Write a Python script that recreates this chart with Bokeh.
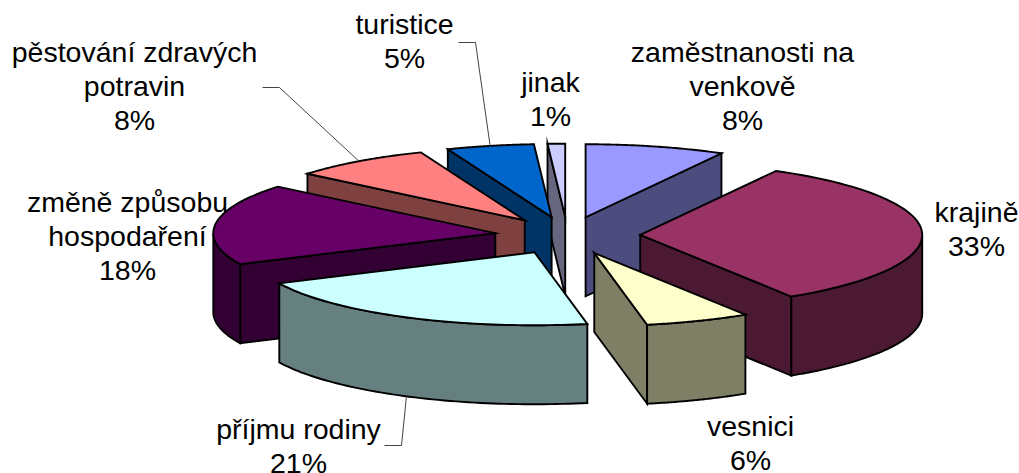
import numpy as np
from bokeh.plotting import figure
from bokeh.models import Range1d
from bokeh.core.properties import value
from bokeh.embed import file_html
from bokeh.resources import INLINE

# data
label_lines = [["zaměstnanosti na", "venkově"], ["krajině"], ["vesnici"], ["příjmu rodiny"],
               ["změně způsobu", "hospodaření"], ["pěstování zdravých", "potravin"], ["turistice"], ["jinak"]]
percent = [8, 33, 6, 21, 18, 8, 5, 1]
top_colors = ["#9999FF", "#993366", "#FFFFCC", "#CCFFFF", "#660066", "#FF8080", "#0066CC", "#CCCCFF"]
side_colors = ["#4C4C7F", "#4C1933", "#7F7F66", "#667F7F", "#330033", "#7F4040", "#003366", "#66667F"]

# layout (page pixels)
W, H = 1019, 473
CX, CY, RX, RY, DEPTH, EXPLODE = 567, 235, 282, 73, 79, 0.258
FONT = 28.5
LINE = 34
label_pos = [(742, 51), (976, 211), (750, 425), (298, 428), (127, 201), (134, 51), (404, 23), (550, 81)]
leaders = {3: [(384, 445), (401, 445)], 5: [(262, 87), (279, 87)], 6: [(458, 42), (475, 42)]}

p = figure(width=W, height=H, x_range=Range1d(0, W), y_range=Range1d(H, 0),
           toolbar_location=None, output_backend="svg", min_border=0, outline_line_color=None)
p.xaxis.visible = False
p.yaxis.visible = False
p.grid.visible = False

v = np.array(percent, dtype=float)
edges = np.concatenate([[0], np.cumsum(v) / v.sum() * 2 * np.pi])


def apex(i):
    m = (edges[i] + edges[i + 1]) / 2
    return CX + EXPLODE * RX * np.sin(m), CY - EXPLODE * RY * np.cos(m)


def rim(i, t):
    ax, ay = apex(i)
    return ax + RX * np.sin(t), ay - RY * np.cos(t)


def face(xs, ys, color):
    p.patch(list(xs), list(ys), fill_color=color, line_color="black", line_width=1.9, line_join="miter")


order = sorted(range(len(v)), key=lambda i: apex(i)[1])
for i in order:
    a, b = edges[i], edges[i + 1]
    ax, ay = apex(i)
    # radial walls that face the viewer
    if np.sin(a) < -1e-6:
        x, y = rim(i, a)
        face([ax, x, x, ax], [ay, y, y + DEPTH, ay + DEPTH], side_colors[i])
    if np.sin(b) > 1e-6:
        x, y = rim(i, b)
        face([ax, x, x, ax], [ay, y, y + DEPTH, ay + DEPTH], side_colors[i])
    # curved outer wall (front half only)
    lo, hi = max(a, np.pi / 2), min(b, 3 * np.pi / 2)
    if hi > lo:
        t = np.linspace(lo, hi, 60)
        x, y = rim(i, t)
        face(np.r_[x, x[::-1]], np.r_[y, (y + DEPTH)[::-1]], side_colors[i])
    # top
    t = np.linspace(a, b, 60)
    x, y = rim(i, t)
    face(np.r_[ax, x], np.r_[ay, y], top_colors[i])

# leader lines
for i, pts in leaders.items():
    m = (edges[i] + edges[i + 1]) / 2
    ex, ey = rim(i, m)
    if np.cos(m) < 0:
        ey = ey + DEPTH
    p.line([q[0] for q in pts] + [ex], [q[1] for q in pts] + [ey], line_color="#444444", line_width=1)

# labels
tx, ty, ts = [], [], []
for lines, pc, (x, y) in zip(label_lines, percent, label_pos):
    for k, s in enumerate(lines + [f"{pc}%"]):
        tx.append(x)
        ty.append(y + k * LINE)
        ts.append(s)
p.text(tx, ty, text=ts, text_font=value("Liberation Sans"), text_font_size=f"{FONT}px",
       text_align="center", text_baseline="middle", text_color="black")

open("out.html", "w").write(file_html(p, INLINE))
